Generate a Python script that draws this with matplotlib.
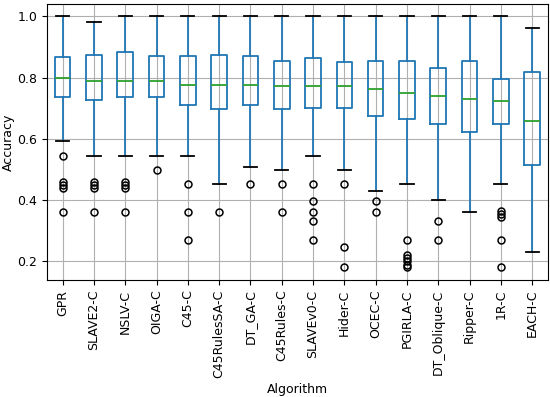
import matplotlib
matplotlib.use("Agg")
import matplotlib.pyplot as plt

algorithms = ["GPR", "SLAVE2-C", "NSLV-C", "OIGA-C", "C45-C", "C45RulesSA-C",
              "DT_GA-C", "C45Rules-C", "SLAVEv0-C", "Hider-C", "OCEC-C",
              "PGIRLA-C", "DT_Oblique-C", "Ripper-C", "1R-C", "EACH-C"]
whisker_high = [1.0, 0.98, 1.0, 1.0, 1.0, 1.0, 1.0, 1.0, 1.0, 1.0, 1.0, 1.0, 1.0, 1.0, 1.0, 0.963]
q3 = [0.866, 0.874, 0.883, 0.871, 0.870, 0.874, 0.870, 0.854, 0.863, 0.850, 0.855, 0.853, 0.830, 0.854, 0.796, 0.818]
medians = [0.797, 0.790, 0.788, 0.788, 0.776, 0.776, 0.776, 0.773, 0.773, 0.771, 0.764, 0.751, 0.741, 0.729, 0.724, 0.658]
q1 = [0.738, 0.728, 0.738, 0.738, 0.712, 0.699, 0.711, 0.698, 0.700, 0.700, 0.673, 0.664, 0.650, 0.624, 0.650, 0.516]
whisker_low = [0.594, 0.543, 0.543, 0.543, 0.543, 0.452, 0.509, 0.497, 0.543, 0.497, 0.429, 0.452, 0.401, 0.362, 0.452, 0.230]
outliers = [
    [0.543, 0.458, 0.450, 0.440, 0.362],
    [0.458, 0.450, 0.440, 0.362],
    [0.458, 0.450, 0.440, 0.362],
    [0.497],
    [0.452, 0.362, 0.270],
    [0.362],
    [0.452],
    [0.452, 0.362],
    [0.452, 0.398, 0.362, 0.331, 0.270],
    [0.452, 0.247, 0.181],
    [0.398, 0.362],
    [0.270, 0.222, 0.212, 0.200, 0.190, 0.183],
    [0.331, 0.270],
    [],
    [0.366, 0.355, 0.344, 0.270, 0.181],
    [],
]

fs = 9
plt.rcParams['font.family'] = ['DejaVu Sans']
fig = plt.figure(figsize=(5.5, 3.97), dpi=100)
ax = fig.add_axes([0.0855, 0.295, 0.9105, 0.695])

stats = []
for i, name in enumerate(algorithms):
    stats.append(dict(label=name, med=medians[i], q1=q1[i], q3=q3[i],
                      whislo=whisker_low[i], whishi=whisker_high[i],
                      fliers=outliers[i]))

blue = "#1f77b4"
lw = 1.3
ax.bxp(stats, positions=range(1, len(algorithms) + 1), widths=0.5,
       capwidths=0.42, showfliers=True,
       boxprops=dict(color=blue, linewidth=lw),
       whiskerprops=dict(color=blue, linewidth=lw),
       capprops=dict(color="black", linewidth=lw),
       medianprops=dict(color="#2ca02c", linewidth=lw),
       flierprops=dict(marker="o", markerfacecolor="none",
                       markeredgecolor="black", markersize=5, markeredgewidth=1.1))

ax.set_xlim(0.5, len(algorithms) + 0.5)
ax.set_ylim(0.14, 1.04)
ax.set_yticks([0.2, 0.4, 0.6, 0.8, 1.0])
ax.grid(True, color="#b0b0b0", linewidth=0.8)
ax.set_axisbelow(True)
ax.set_xticklabels(algorithms, rotation=90, fontsize=fs)
ax.tick_params(axis='y', labelsize=fs)
ax.set_xlabel("Algorithm", fontsize=fs)
ax.set_ylabel("Accuracy", fontsize=fs, labelpad=2)
for s in ax.spines.values():
    s.set_linewidth(0.8)

fig.savefig("out.png", dpi=100)
